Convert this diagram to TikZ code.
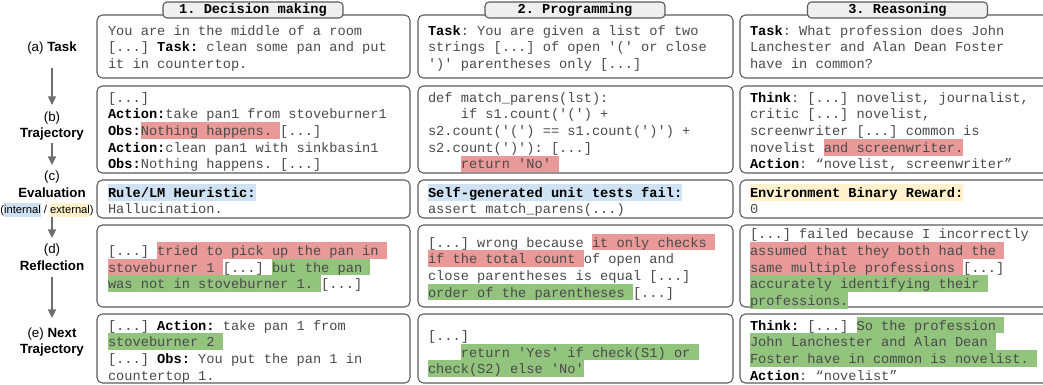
\documentclass[tikz,border=0pt]{standalone}
\usepackage{fontspec}
\setmainfont{Liberation Sans}
\setmonofont{Liberation Mono}
\usetikzlibrary{arrows.meta,fit}
\definecolor{hlred}{HTML}{EA9999}
\definecolor{hlgreen}{HTML}{93C47D}
\definecolor{hlblue}{HTML}{CFE2F3}
\definecolor{hlyellow}{HTML}{FFF2CC}
\definecolor{boxline}{HTML}{5A5A5A}
\definecolor{tabfill}{HTML}{EFEFEF}
\definecolor{txtgray}{HTML}{4A4A4A}
\definecolor{arrowgray}{HTML}{6E6E6E}
\newcommand\mstrut{\rule[-2.5pt]{0pt}{12.5pt}}
\newcommand\lstrut{\rule[-3pt]{0pt}{12.5pt}}
\newcommand\sstrut{\rule[-2.5pt]{0pt}{10.5pt}}
\newcommand\hlbox[2]{{\setlength{\fboxsep}{0pt}\colorbox{#1}{\mstrut#2}}}
\newcommand\hlsmall[2]{{\setlength{\fboxsep}{0pt}\colorbox{#1}{\sstrut#2}}}
\newcommand\bw[1]{{\bfseries\color{black}#1}}
\newcommand\indn{\hspace*{2.4em}}
\tikzset{
  panel/.style={draw=boxline, line width=0.8pt, rounded corners=4pt, inner sep=0pt},
  mono/.style={font=\ttfamily\fontsize{10.25pt}{12.5pt}\selectfont, text=txtgray, align=left, inner sep=0pt, outer sep=0pt, anchor=west},
  tabbox/.style={draw=boxline, fill=tabfill, line width=0.8pt, rounded corners=3pt, minimum width=135pt, minimum height=12pt, inner sep=0pt, font=\ttfamily\bfseries\fontsize{10.25pt}{12.5pt}\selectfont},
  lbl/.style={font=\fontsize{10pt}{12.5pt}\selectfont, align=center, inner sep=0pt, outer sep=0pt, text=black},
  smalllbl/.style={font=\fontsize{8.4pt}{10.5pt}\selectfont, align=center, inner sep=0pt, outer sep=0pt, text=black},
  arr/.style={draw=arrowgray, line width=1pt, -{Triangle[length=6.5pt,width=6pt]}},
}
\begin{document}
\begin{tikzpicture}[x=0.75pt,y=-0.75pt]
\useasboundingbox (0,0) rectangle (1043,385);
\clip (0,0) rectangle (1043,385);
% panels
\node[panel, fit={(97,15)(410,78)}] (A1) {};
\node[panel, fit={(97,86)(410,173)}] (B1) {};
\node[panel, fit={(97,180)(410,218)}] (C1) {};
\node[panel, fit={(97,225)(410,307)}] (D1) {};
\node[panel, fit={(97,314)(410,383)}] (E1) {};
\node[panel, fit={(418,15)(733,78)}] (A2) {};
\node[panel, fit={(418,86)(733,173)}] (B2) {};
\node[panel, fit={(418,180)(733,218)}] (C2) {};
\node[panel, fit={(418,225)(733,307)}] (D2) {};
\node[panel, fit={(418,314)(733,383)}] (E2) {};
\node[panel, fit={(740,15)(1052,78)}] (A3) {};
\node[panel, fit={(740,86)(1052,173)}] (B3) {};
\node[panel, fit={(740,180)(1052,218)}] (C3) {};
\node[panel, fit={(740,225)(1052,307)}] (D3) {};
\node[panel, fit={(740,314)(1052,383)}] (E3) {};
% tabs
\node[tabbox] (T1) at (253,10) {1. Decision making};
\node[tabbox] (T2) at (575,10) {2. Programming};
\node[tabbox] (T3) at (897.5,10) {3. Reasoning};
% column 1
\node[mono] (A1t) at (108,47) {\mstrut You are in the middle of a room\\
\mstrut [...] \bw{Task:} clean some pan and put\\
\mstrut it in countertop.};
\node[mono] (B1t) at (108,130.5) {\mstrut [...]\\
\mstrut \bw{Action:}take pan1 from stoveburner1\\
\mstrut \bw{Obs:}\hlbox{hlred}{Nothing happens. }[...]\\
\mstrut \bw{Action:}clean pan1 with sinkbasin1\\
\mstrut \bw{Obs:}Nothing happens. [...]};
\node[mono] (C1t) at (108,200.5) {\mstrut \hlbox{hlblue}{\bw{Rule/LM Heuristic:}}\\
\mstrut Hallucination.};
\node[mono] (D1t) at (108,267) {\mstrut [...] \hlbox{hlred}{tried to pick up the pan in }\\
\mstrut \hlbox{hlred}{stoveburner 1 }[...] \hlbox{hlgreen}{but the pan }\\
\mstrut \hlbox{hlgreen}{was not in stoveburner 1. }[...]};
\node[mono] (E1t) at (108,350) {\mstrut [...] \bw{Action:} take pan 1 from\\
\mstrut \hlbox{hlgreen}{stoveburner 2 }\\
\mstrut [...] \bw{Obs:} You put the pan 1 in\\
\mstrut countertop 1.};
% column 2
\node[mono] (A2t) at (428,47) {\mstrut \bw{Task}: You are given a list of two\\
\mstrut strings [...] of open '(' or close\\
\mstrut ')' parentheses only [...]};
\node[mono] (B2t) at (428,130.5) {\mstrut def match\_parens(lst):\\
\mstrut \indn if s1.count('(') +\\
\mstrut s2.count('(') == s1.count(')') +\\
\mstrut s2.count(')'): [...]\\
\mstrut \indn\hlbox{hlred}{return 'No' }};
\node[mono] (C2t) at (428,200.5) {\mstrut \hlbox{hlblue}{\bw{Self-generated unit tests fail:}}\\
\mstrut assert match\_parens(...)};
\node[mono] (D2t) at (428,267) {\mstrut [...] wrong because \hlbox{hlred}{it only checks }\\
\mstrut \hlbox{hlred}{if the total count }of open and\\
\mstrut close parentheses is equal [...]\\
\mstrut \hlbox{hlgreen}{order of the parentheses }[...]};
\node[mono] (E2t) at (428,352) {\mstrut [...]\\
\mstrut \indn\hlbox{hlgreen}{return 'Yes' if check(S1) or }\\
\mstrut \hlbox{hlgreen}{check(S2) else 'No'}};
% column 3
\node[mono] (A3t) at (750,47) {\mstrut \bw{Task}: What profession does John\\
\mstrut Lanchester and Alan Dean Foster\\
\mstrut have in common?};
\node[mono] (B3t) at (750,130.5) {\mstrut \bw{Think}: [...] novelist, journalist,\\
\mstrut critic [...] novelist,\\
\mstrut screenwriter [...] common is\\
\mstrut novelist \hlbox{hlred}{and screenwriter.}\\
\mstrut \bw{Action}: “novelist, screenwriter”};
\node[mono] (C3t) at (750,200.5) {\mstrut \hlbox{hlyellow}{\bw{Environment Binary Reward:}}\\
\mstrut 0};
\node[mono] (D3t) at (750,267) {\mstrut [...] failed because I incorrectly\\
\mstrut \hlbox{hlred}{assumed that they both had the }\\
\mstrut \hlbox{hlred}{same multiple professions }[...]\\
\mstrut \hlbox{hlgreen}{accurately identifying their }\\
\mstrut \hlbox{hlgreen}{professions.}};
\node[mono] (E3t) at (750,350) {\mstrut \bw{Think:} [...] \hlbox{hlgreen}{So the profession }\\
\mstrut \hlbox{hlgreen}{John Lanchester and Alan Dean }\\
\mstrut \hlbox{hlgreen}{Foster have in common is novelist. }\\
\mstrut \bw{Action}: “novelist”};
% left labels
\node[lbl] (la) at (52,47) {\lstrut(a) \textbf{Task}};
\node[lbl] (lb) at (52,125) {\lstrut(b)\\\lstrut\textbf{Trajectory}};
\node[lbl] (lc) at (52,184.5) {\lstrut(c)\\\lstrut\textbf{Evaluation}};
\node[smalllbl] (ie) at (47,210) {\sstrut(\hlsmall{hlblue}{internal} / \hlsmall{hlyellow}{external})};
\node[lbl] (ld) at (52,257.5) {\lstrut(d)\\\lstrut\textbf{Reflection}};
\node[lbl] (le) at (52,341) {\lstrut(e) \textbf{Next}\\\lstrut\textbf{Trajectory}};
% arrows
\draw[arr, shorten <=9.5pt, shorten >=2.5pt] (la.south) -- (lb.north);
\draw[arr, shorten <=1pt, shorten >=2.1pt] (lb.south) -- (lc.north);
\draw[arr, shorten >=2.1pt] (ie.south -| ld.north) -- (ld.north);
\draw[arr, shorten <=2.1pt, shorten >=4.7pt] (ld.south) -- (le.north);
\end{tikzpicture}
\end{document}
